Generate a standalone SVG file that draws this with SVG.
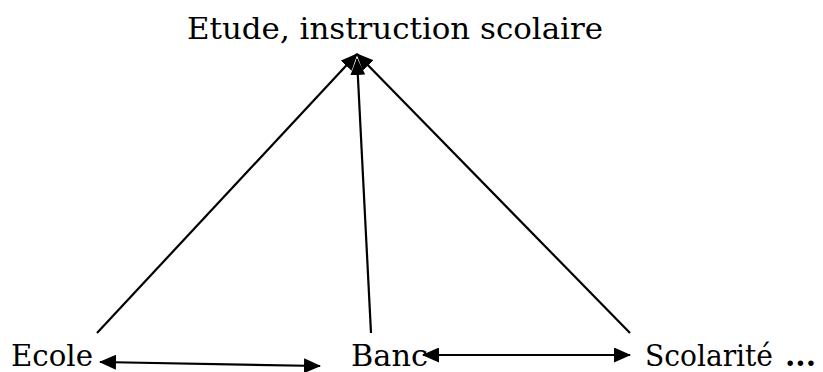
<svg xmlns="http://www.w3.org/2000/svg" width="823" height="372" viewBox="0 0 823 372">
<style>
text{font-family:"DejaVu Serif","Liberation Serif",serif;font-size:30px;fill:#000}
.c{stroke:#000;stroke-width:2.2;fill:none}
</style>
<defs>
<marker id="ah" markerWidth="17" markerHeight="15" refX="16" refY="7.5" orient="auto-start-reverse" markerUnits="userSpaceOnUse">
<path d="M0,0 L17,7.5 L0,15 Z" fill="#000"/>
</marker>
</defs>
<rect width="823" height="372" fill="#fff"/>
<g id="top"><text x="187" y="39" textLength="416" lengthAdjust="spacingAndGlyphs">Etude, instruction scolaire</text></g>
<g id="ecole"><text x="11" y="366" textLength="82" lengthAdjust="spacingAndGlyphs">Ecole</text></g>
<g id="banc"><text x="351" y="366" textLength="77" lengthAdjust="spacingAndGlyphs">Banc</text></g>
<g id="scolarite"><text x="645" y="366" textLength="128" lengthAdjust="spacingAndGlyphs">Scolarité</text><text x="785" y="366" font-weight="bold" textLength="31" lengthAdjust="spacingAndGlyphs">...</text></g>
<g id="connectors">
<line class="c" x1="97" y1="333" x2="357" y2="54" marker-end="url(#ah)"/>
<line class="c" x1="371" y1="333" x2="357" y2="59" marker-end="url(#ah)"/>
<line class="c" x1="630" y1="333" x2="357" y2="54" marker-end="url(#ah)"/>
<line class="c" x1="100" y1="362" x2="320" y2="366" marker-start="url(#ah)" marker-end="url(#ah)"/>
<line class="c" x1="423" y1="355" x2="630" y2="355" marker-start="url(#ah)" marker-end="url(#ah)"/>
</g>
</svg>
